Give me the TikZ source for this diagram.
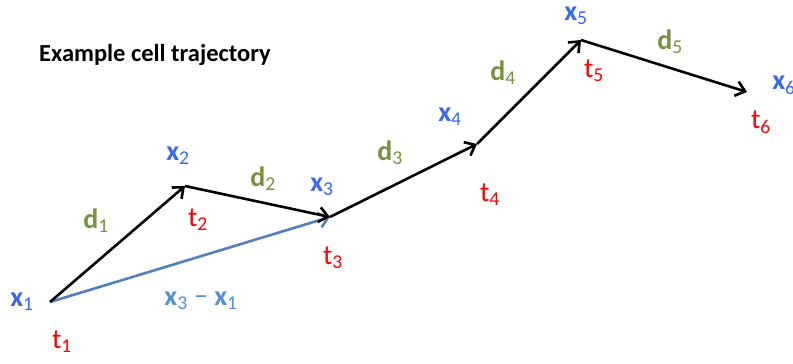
\documentclass[tikz,border=0pt]{standalone}
\usepackage{fontspec}
\setmainfont{Carlito}
\usetikzlibrary{arrows.meta}
\definecolor{xblue}{RGB}{56,104,240}
\definecolor{dgreen}{RGB}{118,146,60}
\definecolor{tred}{RGB}{255,0,0}
\definecolor{lineblue}{RGB}{79,129,189}
\definecolor{lblblue}{RGB}{85,142,213}
\tikzset{
  seg/.style={line width=2.6pt, -{Straight Barb[length=9pt,width=15pt]}, shorten >=0pt},
  xlbl/.style={text=xblue, inner sep=0pt, font=\fontsize{28}{32}\selectfont},
  tlbl/.style={text=tred, inner sep=0pt, font=\fontsize{28}{32}\selectfont},
  dlbl/.style={text=dgreen, inner sep=0pt, font=\fontsize{28}{32}\selectfont},
}
\newcommand{\xl}[1]{\textbf{x}\textsubscript{#1}}
\newcommand{\tl}[1]{t\textsubscript{#1}}
\newcommand{\dl}[1]{\textbf{d}\textsubscript{#1}}
\begin{document}
\begin{tikzpicture}[x=1pt,y=-1pt]
\useasboundingbox (0,0) rectangle (793,364);
\coordinate (p1) at (50,302);
\coordinate (p2) at (185,186);
\coordinate (p3) at (330,217);
\coordinate (p4) at (477,144);
\coordinate (p5) at (581,40);
\coordinate (p6) at (747,92);
\node[anchor=base west, inner sep=0pt, font=\fontsize{24.5}{28}\selectfont\bfseries] (title) at (39,61) {Example cell trajectory};
\draw[seg, draw=lineblue] (p1) -- (p3);
\draw[seg] (p1) -- (p2);
\draw[seg] (p2) -- (p3);
\draw[seg] (p3) -- (p4);
\draw[seg] (p4) -- (p5);
\draw[seg] (p5) -- (p6);
\node[xlbl] (x1) at (22,302) {\xl{1}};
\node[xlbl] (x2) at (178,156) {\xl{2}};
\node[xlbl] (x3) at (322,187) {\xl{3}};
\node[xlbl] (x4) at (450,117) {\xl{4}};
\node[xlbl] (x5) at (576,16) {\xl{5}};
\node[xlbl] (x6) at (784,85) {\xl{6}};
\node[tlbl] (t1) at (62,342) {\tl{1}};
\node[tlbl] (t2) at (198,220) {\tl{2}};
\node[tlbl] (t3) at (333,258) {\tl{3}};
\node[tlbl] (t4) at (490,195) {\tl{4}};
\node[tlbl] (t5) at (594,71) {\tl{5}};
\node[tlbl] (t6) at (761,122) {\tl{6}};
\node[dlbl] (d1) at (96,221) {\dl{1}};
\node[dlbl] (d2) at (263,179) {\dl{2}};
\node[dlbl] (d3) at (390,153) {\dl{3}};
\node[dlbl] (d4) at (503,73) {\dl{4}};
\node[dlbl] (d5) at (670,42) {\dl{5}};
\node[xlbl, text=lblblue] (diff) at (201,301) {\xl{3} − \xl{1}};
\end{tikzpicture}
\end{document}
